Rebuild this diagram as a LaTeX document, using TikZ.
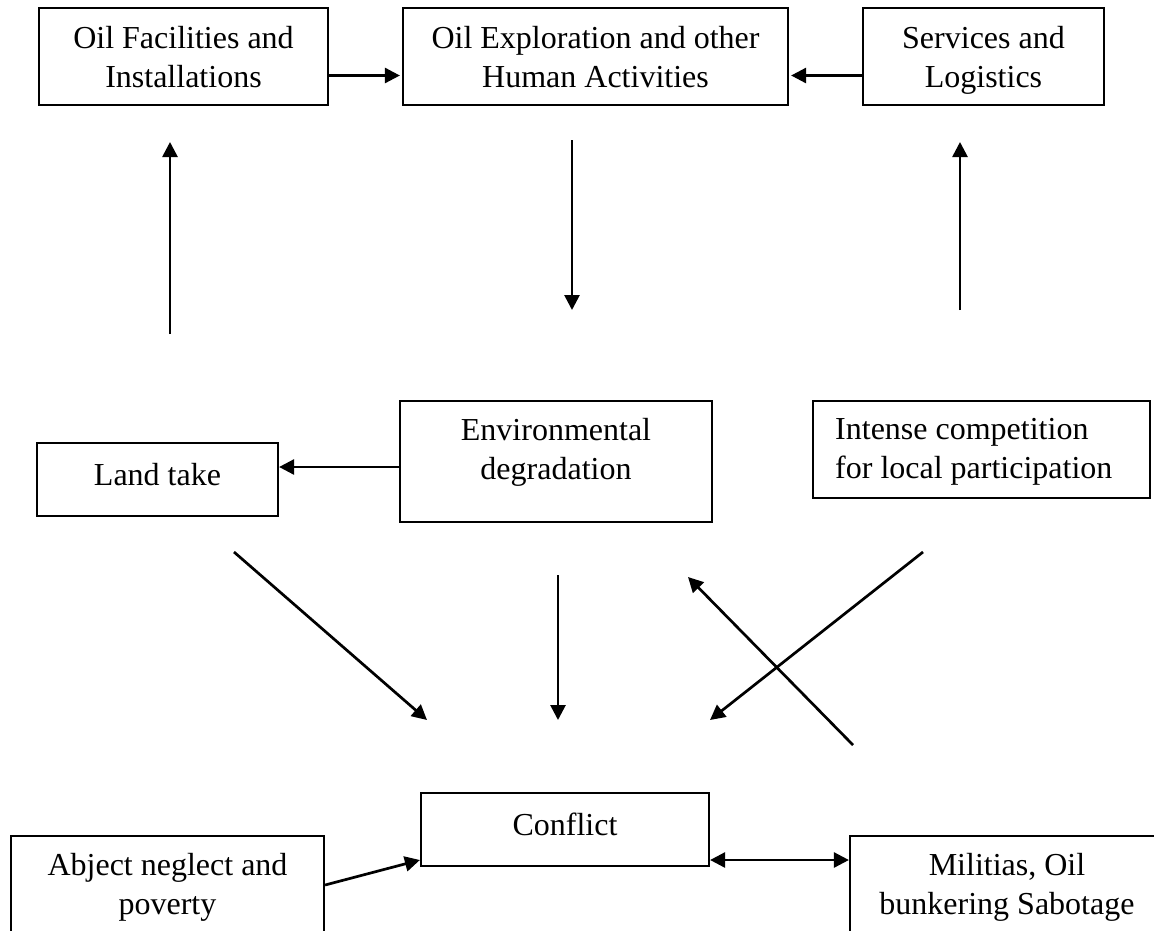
\documentclass[tikz,border=0pt]{standalone}
\usepackage{fontspec}
\setmainfont{Liberation Serif}
\usetikzlibrary{arrows.meta}
\begin{document}
\begin{tikzpicture}[x=1pt,y=-1pt,
  box/.style={draw,line width=2.2pt,inner sep=0pt,align=center,text depth=0pt,font=\fontsize{32}{39}\selectfont},
  txt/.style={inner sep=0pt,font=\fontsize{32}{39}\selectfont},
  arr/.style={line width=2.7pt,-{Triangle[length=15pt,width=15pt]}},
  darr/.style={line width=2.7pt,{Triangle[length=15pt,width=15pt]}-{Triangle[length=15pt,width=15pt]}},
]
\useasboundingbox (0,0) rectangle (1154,930);
\clip (0,0) rectangle (1154,930);
% top row
\node[box,minimum width=289pt,minimum height=97pt] (fac) at (183.5,56.5) {Oil Facilities and\\Installations};
\node[box,minimum width=385pt,minimum height=97pt] (expl) at (595.5,56.5) {Oil Exploration and other\\Human Activities};
\node[box,minimum width=241pt,minimum height=97pt] (serv) at (983.5,56.5) {Services and\\Logistics};
% middle row
\node[box,text height=11pt,minimum width=241pt,minimum height=73pt] (land) at (157.5,479.5) {Land take};
\node[box,minimum width=312pt,minimum height=121pt] (env) at (556,461.5) {};
\node[txt,align=center] (envt) at (556,452) {Environmental\\degradation};
\node[box,minimum width=337pt,minimum height=97pt] (comp) at (981.5,449.5) {};
\node[txt,align=left,anchor=west] (compt) at (835,452) {Intense competition\\for local participation};
% bottom row
\node[box,text height=11pt,minimum width=288pt,minimum height=73pt] (conf) at (565,829.5) {Conflict};
\node[box,minimum width=313pt,minimum height=124pt] (abj) at (167.5,898) {};
\node[txt,align=center] (abjt) at (167.5,887.5) {Abject neglect and\\poverty};
\node[box,minimum width=314pt,minimum height=124pt] (mil) at (1007,898) {};
\node[txt,align=center] (milt) at (1007,887.5) {Militias, Oil\\bunkering Sabotage};
% top arrows
\draw[arr] ([yshift=-19pt]fac.east) -- ([yshift=-19pt,xshift=-2pt]expl.west);
\draw[arr] ([yshift=-19pt]serv.west) -- ([yshift=-19pt,xshift=2pt]expl.east);
% vertical arrows
\coordinate (u1s) at (170,334);
\coordinate (u1e) at (170,142);
\coordinate (d1s) at (572,140);
\coordinate (d1e) at (572,310);
\coordinate (u2s) at (960,310);
\coordinate (u2e) at (960,142);
\draw[arr] (u1s) -- (u1e);
\draw[arr] (d1s) -- (d1e);
\draw[arr] (u2s) -- (u2e);
% env -> land
\coordinate (ea) at ([yshift=-5.5pt]env.west);
\draw[arr] (ea) -- (ea -| land.east);
% diagonals
\coordinate (g1s) at (234,552);
\coordinate (g1e) at (427,720);
\coordinate (g2s) at (558,575);
\coordinate (g2e) at (558,720);
\coordinate (g3s) at (923,552);
\coordinate (g3e) at (710,720);
\coordinate (g4s) at (853,745);
\coordinate (g4e) at (688,577);
\draw[arr] (g1s) -- (g1e);
\draw[arr] (g2s) -- (g2e);
\draw[arr] (g3s) -- (g3e);
\draw[arr] (g4s) -- (g4e);
% bottom arrows
\draw[arr] ([yshift=13pt]abj.east) -- ([yshift=-30.5pt]conf.west);
\coordinate (ca) at ([yshift=-30.5pt]conf.east);
\draw[darr] (ca) -- (ca -| mil.west);
\end{tikzpicture}
\end{document}
